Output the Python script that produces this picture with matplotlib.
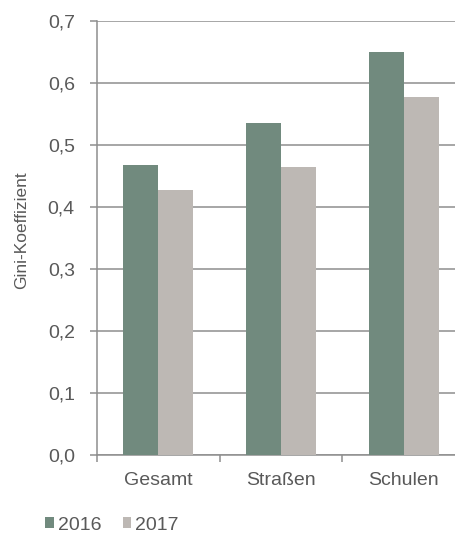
import matplotlib
matplotlib.use("Agg")
import matplotlib.pyplot as plt
from matplotlib.patches import Patch
import numpy as np

categories = ["Gesamt", "Straßen", "Schulen"]
series_names = ["2016", "2017"]
values_2016 = [0.468, 0.535, 0.650]
values_2017 = [0.427, 0.465, 0.578]
yticks = [0.0, 0.1, 0.2, 0.3, 0.4, 0.5, 0.6, 0.7]
ytick_labels = ["0,0", "0,1", "0,2", "0,3", "0,4", "0,5", "0,6", "0,7"]

c2016 = "#718a7e"
c2017 = "#bdb8b4"
grid_c = "#8e8e8e"
text_c = "#595959"

plt.rcParams["font.family"] = ["Liberation Sans", "DejaVu Sans"]

W, H = 456, 534
fig = plt.figure(figsize=(W / 100, H / 100), dpi=100)
ax = fig.add_axes([97 / W, (H - 455) / H, 368 / W, 434 / H])

x = np.arange(len(categories))
bw = 0.285
ax.bar(x - bw / 2, values_2016, width=bw, color=c2016, zorder=3, label=series_names[0])
ax.bar(x + bw / 2, values_2017, width=bw, color=c2017, zorder=3, label=series_names[1])

ax.set_xlim(-0.5, len(categories) - 0.5)
ax.set_ylim(0, 0.7)
ax.set_yticks(yticks)
ax.set_yticklabels(ytick_labels)
ax.yaxis.grid(True, color=grid_c, linewidth=1.1, zorder=0)
ax.set_axisbelow(True)

ax.set_xticks(x)
ax.set_xticklabels(categories)
ax.set_xticks(np.arange(len(categories)) - 0.5, minor=True)
ax.tick_params(axis="x", which="major", length=0, pad=12, labelsize=14, labelcolor=text_c)
ax.tick_params(axis="x", which="minor", length=5, width=1.1, color=grid_c, direction="out")
ax.tick_params(axis="y", length=5, width=1.1, color=grid_c, pad=11, labelsize=14, labelcolor=text_c)

for s in ["top", "right"]:
    ax.spines[s].set_visible(False)
for s in ["left", "bottom"]:
    ax.spines[s].set_color(grid_c)
    ax.spines[s].set_linewidth(1.1)

fig.text(22 / W, (H - 230) / H, "Gini-Koeffizient", rotation=90, ha="center", va="center",
         fontsize=12.5, color=text_c)

handles = [Patch(facecolor=c2016, edgecolor="none"), Patch(facecolor=c2017, edgecolor="none")]
leg = fig.legend(handles, series_names, loc="center left", bbox_to_anchor=(45 / W, 9 / H),
                 ncol=2, frameon=False, fontsize=14, handlelength=0.45, handleheight=0.45,
                 handletextpad=0.2, columnspacing=1.1, borderpad=0, borderaxespad=0)
for t in leg.get_texts():
    t.set_color(text_c)

fig.savefig("out.png", dpi=100)
